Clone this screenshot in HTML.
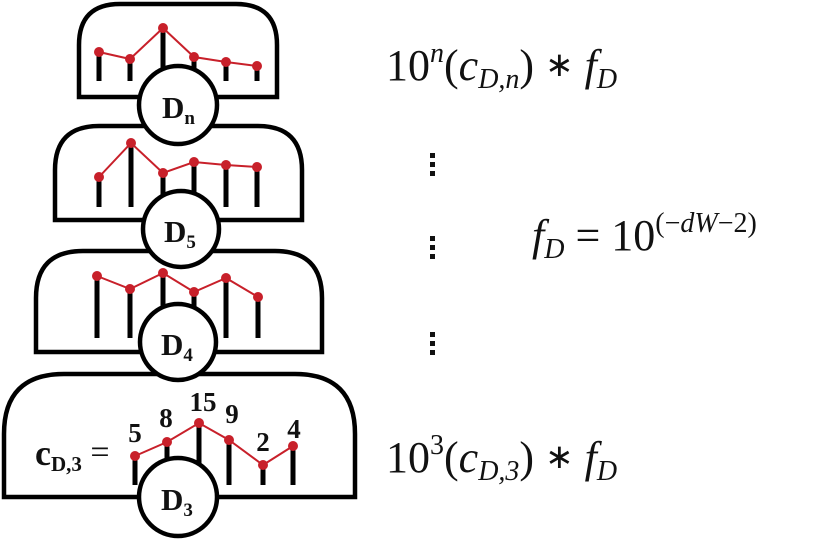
<!DOCTYPE html>
<html><head><style>
html,body{margin:0;padding:0;background:#fff;}
svg{display:block;}
.m{font-family:"Liberation Serif",serif;fill:#111;}
.lab{font-family:"Liberation Serif",serif;font-weight:bold;fill:#111;}
</style></head><body>
<svg width="821" height="542" viewBox="0 0 821 542" xmlns="http://www.w3.org/2000/svg">
<g fill="#fff" stroke="#000" stroke-width="4.5">
<path d="M79,97 L79,45 Q79,4 120,4 L236,4 Q277,4 277,45 L277,97 Z"/>
<path d="M55,220 L55,170 Q55,126 99,126 L258,126 Q302,126 302,170 L302,220 Z"/>
<path d="M36,352 L36,298 Q36,251 83,251 L275,251 Q322,251 322,298 L322,352 Z"/>
<path d="M4,497 L4,434 Q4,374 64,374 L295,374 Q355,374 355,434 L355,497 Z"/>
</g>
<g stroke="#000" stroke-width="5">
<line x1="99" y1="52" x2="99" y2="81"/><line x1="130" y1="59" x2="130" y2="81"/><line x1="163" y1="28" x2="163" y2="81"/><line x1="194" y1="57" x2="194" y2="81"/><line x1="226" y1="62" x2="226" y2="81"/><line x1="257" y1="66" x2="257" y2="81"/>
<line x1="99" y1="177" x2="99" y2="207"/><line x1="131" y1="143" x2="131" y2="207"/><line x1="163" y1="173" x2="163" y2="207"/><line x1="194" y1="162" x2="194" y2="207"/><line x1="226" y1="165" x2="226" y2="207"/><line x1="257" y1="167" x2="257" y2="207"/>
<line x1="97" y1="276" x2="97" y2="338"/><line x1="130" y1="289" x2="130" y2="338"/><line x1="163" y1="273" x2="163" y2="338"/><line x1="194" y1="292" x2="194" y2="338"/><line x1="226" y1="278" x2="226" y2="338"/><line x1="258" y1="297" x2="258" y2="338"/>
<line x1="135" y1="456" x2="135" y2="485"/><line x1="167" y1="442" x2="167" y2="485"/><line x1="199" y1="423" x2="199" y2="485"/><line x1="229" y1="440" x2="229" y2="485"/><line x1="263" y1="465" x2="263" y2="485"/><line x1="293" y1="446" x2="293" y2="485"/>
</g>
<g stroke="#c8202a" stroke-width="2" fill="none">
<polyline points="99,52 130,59 163,28 194,57 226,62 257,66"/>
<polyline points="99,177 131,143 163,173 194,162 226,165 257,167"/>
<polyline points="97,276 130,289 163,273 194,292 226,278 258,297"/>
<polyline points="135,456 167,442 199,423 229,440 263,465 293,446"/>
</g>
<g fill="#c8202a">
<circle cx="99" cy="52" r="5"/><circle cx="130" cy="59" r="5"/><circle cx="163" cy="28" r="5"/><circle cx="194" cy="57" r="5"/><circle cx="226" cy="62" r="5"/><circle cx="257" cy="66" r="5"/>
<circle cx="99" cy="177" r="5"/><circle cx="131" cy="143" r="5"/><circle cx="163" cy="173" r="5"/><circle cx="194" cy="162" r="5"/><circle cx="226" cy="165" r="5"/><circle cx="257" cy="167" r="5"/>
<circle cx="97" cy="276" r="5"/><circle cx="130" cy="289" r="5"/><circle cx="163" cy="273" r="5"/><circle cx="194" cy="292" r="5"/><circle cx="226" cy="278" r="5"/><circle cx="258" cy="297" r="5"/>
<circle cx="135" cy="456" r="5"/><circle cx="167" cy="442" r="5"/><circle cx="199" cy="423" r="5"/><circle cx="229" cy="440" r="5"/><circle cx="263" cy="465" r="5"/><circle cx="293" cy="446" r="5"/>
</g>
<g fill="#fff" stroke="#000" stroke-width="4.5">
<circle cx="178" cy="105" r="39"/>
<circle cx="181" cy="229" r="38"/>
<circle cx="178" cy="342" r="38"/>
<circle cx="178" cy="497" r="39"/>
</g>
<g class="lab" font-size="31">
<text x="162" y="118">D<tspan font-size="19" dy="6">n</tspan></text>
<text x="164" y="242">D<tspan font-size="19" dy="6">5</tspan></text>
<text x="161" y="355">D<tspan font-size="19" dy="6">4</tspan></text>
<text x="161" y="510">D<tspan font-size="19" dy="6">3</tspan></text>
</g>
<g class="lab" font-size="27" text-anchor="middle">
<text x="135" y="442">5</text><text x="166" y="427">8</text><text x="203" y="411">15</text><text x="232" y="423">9</text><text x="263" y="451">2</text><text x="294" y="438">4</text>
</g>
<text class="lab" x="35" y="465" font-size="36">c<tspan font-size="21" dy="6">D,3</tspan><tspan dy="-8" font-weight="normal" font-size="34"> =</tspan></text>
<g class="m" font-size="44">
<text x="386" y="80">10<tspan font-size="28" dy="-18" font-style="italic">n</tspan><tspan dy="18">(</tspan><tspan font-style="italic">c</tspan><tspan font-size="28" dy="8" font-style="italic">D,n</tspan><tspan dy="-8">) </tspan><tspan font-size="34" dy="-4">∗</tspan><tspan dy="4"> </tspan><tspan font-style="italic">f</tspan><tspan font-size="28" dy="8" font-style="italic">D</tspan></text>
<text x="386" y="472">10<tspan font-size="28" dy="-18">3</tspan><tspan dy="18">(</tspan><tspan font-style="italic">c</tspan><tspan font-size="28" dy="8" font-style="italic">D,3</tspan><tspan dy="-8">) </tspan><tspan font-size="34" dy="-4">∗</tspan><tspan dy="4"> </tspan><tspan font-style="italic">f</tspan><tspan font-size="28" dy="8" font-style="italic">D</tspan></text>
<text x="532" y="250"><tspan font-style="italic">f</tspan><tspan font-size="28" dy="8" font-style="italic">D</tspan><tspan dy="-8"> = 10</tspan><tspan font-size="28" dy="-18">(−<tspan font-style="italic">dW</tspan>−2)</tspan></text>
</g>
<g fill="#111">
<rect x="430" y="153" width="5" height="5"/><rect x="430" y="162" width="5" height="5"/><rect x="430" y="171" width="5" height="5"/>
<rect x="430" y="236" width="5" height="5"/><rect x="430" y="245" width="5" height="5"/><rect x="430" y="254" width="5" height="5"/>
<rect x="430" y="332" width="5" height="5"/><rect x="430" y="341" width="5" height="5"/><rect x="430" y="350" width="5" height="5"/>
</g>
</svg>
</body></html>
